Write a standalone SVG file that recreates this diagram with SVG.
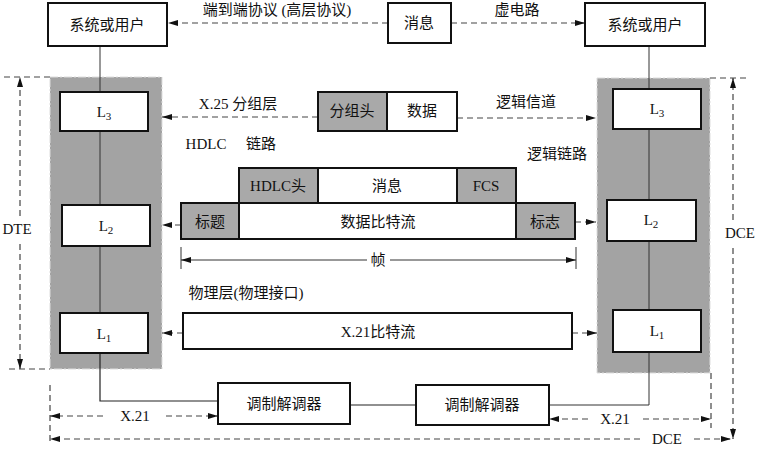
<svg xmlns="http://www.w3.org/2000/svg" width="758" height="450" viewBox="0 0 758 450">
<defs>
<style>
.box{fill:#fff;stroke:#111;stroke-width:2}
.gbox{fill:#a9a9a9;stroke:#111;stroke-width:2}
.panel{fill:#a3a3a3;stroke:#ddd;stroke-width:1;stroke-dasharray:8,2,2,2}
.t{font-family:"Liberation Serif","Noto Sans CJK SC",serif;font-size:15px;fill:#111;text-anchor:middle;dominant-baseline:central}
.dash{fill:none;stroke:#444;stroke-width:1.2;stroke-dasharray:6,4}
.solid{fill:none;stroke:#222;stroke-width:1.2}
.thin{fill:none;stroke:#333;stroke-width:1}
</style>
<marker id="ah" viewBox="0 0 10 6" refX="10" refY="3" markerWidth="10" markerHeight="6" markerUnits="userSpaceOnUse" orient="auto-start-reverse">
<path d="M0,0 L10,3 L0,6 Z" fill="#111"/>
</marker>
</defs>

<g id="panels">
<rect class="panel" x="50" y="77" width="112" height="292"/>
<rect class="panel" x="597" y="78" width="113" height="295"/>
</g>

<g id="connectors">
<!-- top -->
<line class="dash" x1="388" y1="23" x2="168" y2="23" marker-end="url(#ah)"/>
<line class="dash" x1="451" y1="23" x2="585" y2="23" marker-end="url(#ah)"/>
<!-- vertical links left -->
<polyline class="thin" points="100,45 100,92"/>
<polyline class="thin" points="100,131 100,205"/>
<polyline class="thin" points="100,246 100,313"/>
<polyline class="solid" points="100,353 100,401 218,401"/>
<line class="solid" x1="350" y1="405" x2="416" y2="405"/>
<polyline class="thin" points="649,45 649,89"/>
<polyline class="thin" points="649,129 649,200"/>
<polyline class="thin" points="649,241 649,310"/>
<polyline class="thin" points="649,352 649,405 549,405"/>
<!-- layer arrows -->
<line class="dash" x1="318" y1="117" x2="162" y2="117" marker-end="url(#ah)"/>
<line class="dash" x1="457" y1="118" x2="596" y2="118" marker-end="url(#ah)"/>
<line class="dash" x1="181" y1="225" x2="162" y2="225" marker-end="url(#ah)"/>
<line class="dash" x1="575" y1="222" x2="596" y2="222" marker-end="url(#ah)"/>
<line class="dash" x1="183" y1="333" x2="162" y2="333" marker-end="url(#ah)"/>
<line class="dash" x1="572" y1="333" x2="597" y2="333" marker-end="url(#ah)"/>
<!-- frame -->
<line class="thin" x1="181" y1="247" x2="181" y2="269"/>
<line class="thin" x1="576" y1="247" x2="576" y2="269"/>
<line class="thin" x1="367" y1="260" x2="181" y2="260" marker-end="url(#ah)"/>
<line class="thin" x1="390" y1="260" x2="576" y2="260" marker-end="url(#ah)"/>
<!-- DTE -->
<line class="dash" x1="4" y1="77" x2="50" y2="77"/>
<line class="dash" x1="9" y1="369" x2="50" y2="369"/>
<line class="dash" x1="20" y1="216" x2="20" y2="77" marker-end="url(#ah)"/>
<line class="dash" x1="20" y1="244" x2="20" y2="369" marker-end="url(#ah)"/>
<!-- DCE right -->
<line class="dash" x1="710" y1="78" x2="748" y2="78"/>
<line class="dash" x1="733" y1="220" x2="733" y2="78" marker-end="url(#ah)"/>
<line class="dash" x1="733" y1="248" x2="733" y2="439" marker-end="url(#ah)"/>
<!-- bottom X.21 -->
<line class="dash" x1="50" y1="385" x2="50" y2="443"/>
<line class="dash" x1="103" y1="416" x2="50" y2="416" marker-end="url(#ah)"/>
<line class="dash" x1="166" y1="416" x2="218" y2="416" marker-end="url(#ah)"/>
<line class="dash" x1="711" y1="373" x2="711" y2="428"/>
<line class="dash" x1="588" y1="419" x2="549" y2="419" marker-end="url(#ah)"/>
<line class="dash" x1="643" y1="419" x2="711" y2="419" marker-end="url(#ah)"/>
<line class="dash" x1="640" y1="439" x2="50" y2="439" marker-end="url(#ah)"/>
<line class="dash" x1="694" y1="439" x2="731" y2="439" marker-end="url(#ah)"/>
</g>

<g id="user-left"><rect class="box" x="48" y="3" width="119" height="43"/><text class="t" x="107" y="25">系统或用户</text></g>
<g id="msg-top"><rect class="box" x="388" y="3" width="63" height="40"/><text class="t" x="419" y="23">消息</text></g>
<g id="user-right"><rect class="box" x="585" y="3" width="120" height="43"/><text class="t" x="645" y="25">系统或用户</text></g>

<g id="L3-left"><rect class="box" x="60" y="92" width="88" height="39"/><text class="t" x="104" y="112">L<tspan font-size="11" dy="4">3</tspan></text></g>
<g id="L2-left"><rect class="box" x="62" y="205" width="88" height="41"/><text class="t" x="106" y="226">L<tspan font-size="11" dy="4">2</tspan></text></g>
<g id="L1-left"><rect class="box" x="60" y="313" width="88" height="40"/><text class="t" x="104" y="334">L<tspan font-size="11" dy="4">1</tspan></text></g>
<g id="L3-right"><rect class="box" x="613" y="89" width="88" height="40"/><text class="t" x="657" y="109">L<tspan font-size="11" dy="4">3</tspan></text></g>
<g id="L2-right"><rect class="box" x="607" y="200" width="89" height="41"/><text class="t" x="651" y="220">L<tspan font-size="11" dy="4">2</tspan></text></g>
<g id="L1-right"><rect class="box" x="613" y="310" width="88" height="42"/><text class="t" x="657" y="331">L<tspan font-size="11" dy="4">1</tspan></text></g>

<g id="packet">
<rect class="gbox" x="318" y="92" width="69" height="39"/><text class="t" x="352" y="111">分组头</text>
<rect class="box" x="387" y="92" width="70" height="39"/><text class="t" x="422" y="111">数据</text>
</g>
<g id="hdlc-frame">
<rect class="gbox" x="239" y="168" width="79" height="35"/><text class="t" x="278" y="186">HDLC头</text>
<rect class="box" x="318" y="168" width="139" height="35"/><text class="t" x="387" y="186">消息</text>
<rect class="gbox" x="457" y="168" width="59" height="35"/><text class="t" x="486" y="186">FCS</text>
</g>
<g id="bitstream">
<rect class="gbox" x="181" y="203" width="58" height="36"/><text class="t" x="210" y="222">标题</text>
<rect class="box" x="239" y="203" width="277" height="36"/><text class="t" x="378" y="222">数据比特流</text>
<rect class="gbox" x="516" y="203" width="59" height="36"/><text class="t" x="545" y="222">标志</text>
</g>
<g id="x21-stream"><rect class="box" x="183" y="313" width="389" height="36"/><text class="t" x="378" y="332">X.21比特流</text></g>
<g id="modem-left"><rect class="box" x="218" y="383" width="132" height="41"/><text class="t" x="284" y="404">调制解调器</text></g>
<g id="modem-right"><rect class="box" x="416" y="385" width="133" height="40"/><text class="t" x="482" y="405">调制解调器</text></g>

<g id="labels">
<text class="t" x="277" y="10">端到端协议 (高层协议)</text>
<text class="t" x="517" y="10">虚电路</text>
<text class="t" x="238" y="104">X.25 分组层</text>
<text class="t" x="526" y="102">逻辑信道</text>
<text class="t" x="206" y="144">HDLC</text>
<text class="t" x="261" y="144">链路</text>
<text class="t" x="557" y="154">逻辑链路</text>
<text class="t" x="378" y="260">帧</text>
<text class="t" x="246" y="293">物理层(物理接口)</text>
<text class="t" x="17" y="229">DTE</text>
<text class="t" x="740" y="233">DCE</text>
<text class="t" x="135" y="416">X.21</text>
<text class="t" x="615" y="419">X.21</text>
<text class="t" x="667" y="439">DCE</text>
</g>
</svg>
